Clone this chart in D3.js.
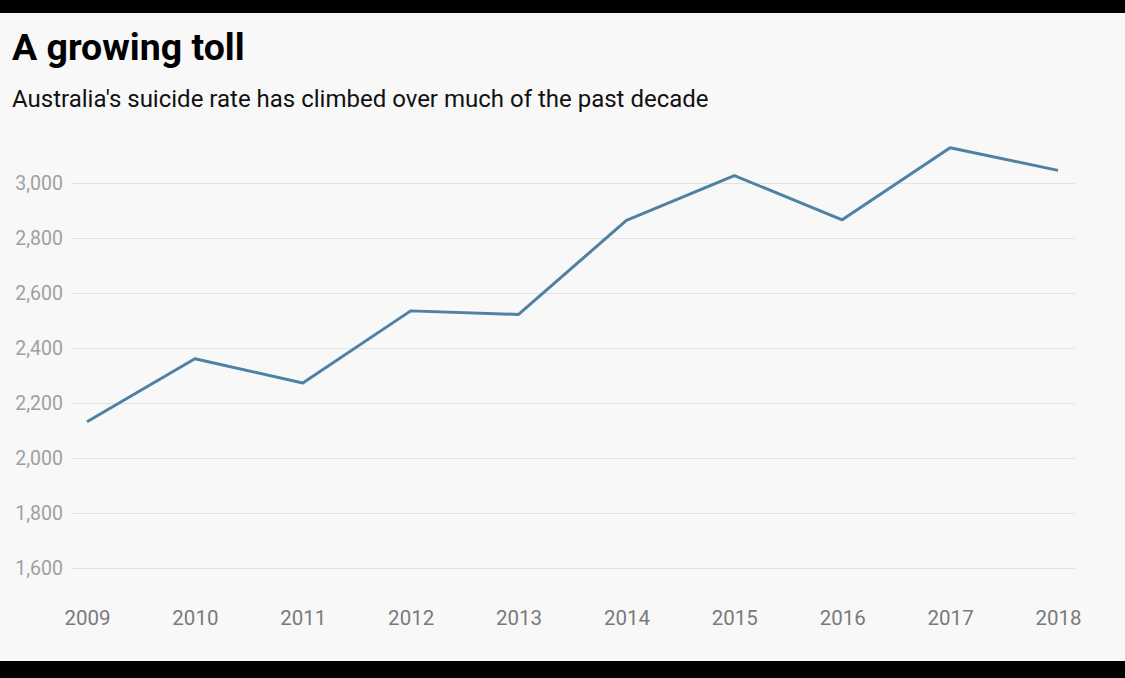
<!DOCTYPE html>
<html><head><meta charset="utf-8">
<script src="https://cdn.jsdelivr.net/npm/d3@7"></script>
<style>
html,body{margin:0;padding:0;background:#000;}
svg{display:block;font-family:Roboto,sans-serif;}
</style></head>
<body>
<svg id="c" width="1125" height="678"></svg>
<script>
const years = ["2009","2010","2011","2012","2013","2014","2015","2016","2017","2018"];
const deaths = [2132, 2361, 2273, 2535, 2522, 2864, 3027, 2866, 3128, 3046];
const yTicks = [1600, 1800, 2000, 2200, 2400, 2600, 2800, 3000];
const title = "A growing toll";
const subtitle = "Australia's suicide rate has climbed over much of the past decade";

const svg = d3.select("#c");
svg.append("rect").attr("x",0).attr("y",13).attr("width",1125).attr("height",648).attr("fill","#f8f8f8");

svg.append("text").attr("x",12).attr("y",60).text(title)
  .attr("font-size",37.5).attr("font-weight","bold").attr("fill","#000");
svg.append("text").attr("x",12).attr("y",107).text(subtitle)
  .attr("font-size",24).attr("fill","#111");

const x = d3.scalePoint().domain(years).range([87,1058]);
const y = d3.scaleLinear().domain([1600,3000]).range([568,183]);

const gy = svg.append("g").attr("transform","translate(71,0)")
  .call(d3.axisLeft(y).tickValues(yTicks).tickSize(-1004).tickPadding(8).tickFormat(d3.format(",")));
gy.select(".domain").remove();
gy.selectAll(".tick line").attr("stroke","#e2e2e2").attr("stroke-width",1.2);
gy.selectAll(".tick text").attr("fill","#a0a0a0").attr("font-size",19.5).attr("font-family","Roboto");

const gx = svg.append("g").attr("transform","translate(0,602)")
  .call(d3.axisBottom(x).tickSize(0).tickPadding(8));
gx.select(".domain").remove();
gx.selectAll(".tick text").attr("fill","#7a7a7a").attr("font-size",20.5).attr("font-family","Roboto");

const line = d3.line().x((d,i)=>x(years[i])).y(d=>y(d));
svg.append("path").datum(deaths).attr("d",line).attr("fill","none")
  .attr("stroke","#4f81a5").attr("stroke-width",3).attr("stroke-linejoin","round");
</script>
</body></html>
